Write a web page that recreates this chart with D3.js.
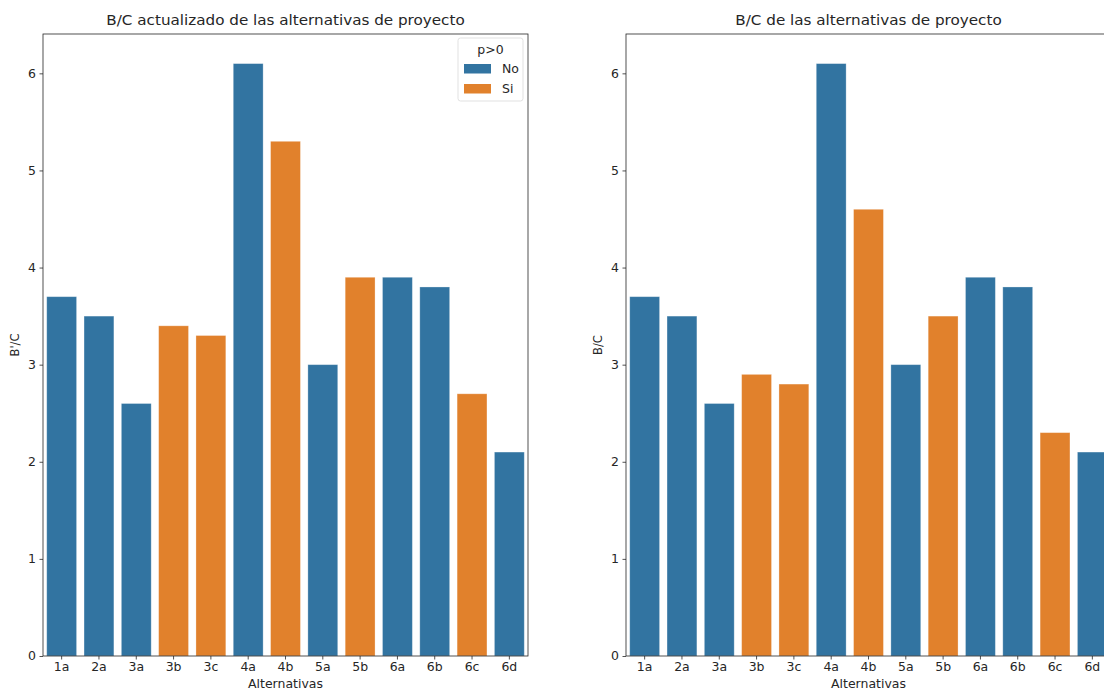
<!DOCTYPE html>
<html>
<head>
<meta charset="utf-8">
<script src="https://cdn.jsdelivr.net/npm/d3@7"></script>
<style>
  html, body { margin: 0; padding: 0; background: #fff; overflow: hidden; }
  svg { display: block; font-family: "DejaVu Sans", sans-serif; }
</style>
</head>
<body>
<svg id="chart" width="1104" height="693"></svg>
<script>
// Alternatives and their benefit/cost ratios
const categories = ["1a", "2a", "3a", "3b", "3c", "4a", "4b", "5a", "5b", "6a", "6b", "6c", "6d"];
const positive = ["No", "No", "No", "Si", "Si", "No", "Si", "No", "Si", "No", "No", "Si", "No"];
const bcUpdated = [3.7, 3.5, 2.6, 3.4, 3.3, 6.1, 5.3, 3.0, 3.9, 3.9, 3.8, 2.7, 2.1];
const bcPlain = [3.7, 3.5, 2.6, 2.9, 2.8, 6.1, 4.6, 3.0, 3.5, 3.9, 3.8, 2.3, 2.1];
const yTicks = [0, 1, 2, 3, 4, 5, 6];
const legendKeys = ["No", "Si"];

const color = d3.scaleOrdinal().domain(legendKeys).range(["#3274a1", "#e1812c"]);
const svg = d3.select("#chart");
const ink = "#262626";
const stretch = 1.085; // slightly wide glyphs

const plotTop = 34, plotBottom = 656, panelW = 485;
const yMax = d3.max(bcUpdated.concat(bcPlain)) * 1.05;
const y = d3.scaleLinear().domain([0, yMax]).range([plotBottom, plotTop]);

// text placed at (x, y) and widened horizontally around that point
function label(parent, x, yPos, str, size, anchor) {
  return parent.append("text")
    .attr("transform", `translate(${x},${yPos}) scale(${stretch},1)`)
    .attr("text-anchor", anchor || "start")
    .attr("font-size", size).attr("fill", ink).text(str);
}

function panel(left, values, title, ylabel, withLegend) {
  const x = d3.scaleBand().domain(categories).range([left, left + panelW]).paddingInner(0.2).paddingOuter(0.1);
  const g = svg.append("g");

  g.selectAll("rect.bar").data(values).join("rect")
    .attr("class", "bar")
    .attr("x", (d, i) => x(categories[i]))
    .attr("width", x.bandwidth())
    .attr("y", d => y(d))
    .attr("height", d => y(0) - y(d))
    .attr("fill", (d, i) => color(positive[i]))
    .attr("stroke", "#ffffff")
    .attr("stroke-opacity", 0.35)
    .attr("stroke-width", 0.8);

  const xAxis = d3.axisBottom(x).tickSize(3.5).tickPadding(3.5);
  const gx = g.append("g").attr("transform", `translate(0,${plotBottom})`).call(xAxis);
  const yAxis = d3.axisLeft(y).tickValues(yTicks).tickFormat(d3.format("d")).tickSize(3.5).tickPadding(3.5);
  const gy = g.append("g").attr("transform", `translate(${left},0)`).call(yAxis);
  [gx, gy].forEach(a => {
    a.select(".domain").remove();
    a.selectAll(".tick line").attr("stroke", ink).attr("stroke-width", 0.8);
    a.selectAll(".tick text").attr("fill", ink).attr("font-size", 11.5)
      .attr("font-family", "DejaVu Sans, sans-serif");
  });
  gx.selectAll(".tick text").attr("transform", `scale(${stretch},1)`);
  gy.selectAll(".tick text").attr("x", -7 / stretch).attr("transform", `scale(${stretch},1)`);

  // axes frame
  g.append("rect").attr("x", left).attr("y", plotTop).attr("width", panelW).attr("height", plotBottom - plotTop)
    .attr("fill", "none").attr("stroke", ink).attr("stroke-width", 0.8);

  label(g, left + panelW / 2, plotTop - 9.5, title, 14, "middle");
  label(g, left + panelW / 2, 688, "Alternativas", 11.5, "middle");
  g.append("text").attr("transform", `translate(${left - 24},${(plotTop + plotBottom) / 2}) rotate(-90)`)
    .attr("text-anchor", "middle").attr("font-size", 11.5).attr("fill", ink).text(ylabel);

  if (withLegend) {
    const lg = g.append("g").attr("transform", `translate(${left + panelW - 70},38)`);
    lg.append("rect").attr("width", 65).attr("height", 63).attr("rx", 2.5)
      .attr("fill", "#fff").attr("fill-opacity", 0.8).attr("stroke", "#d9d9d9").attr("stroke-width", 0.8);
    label(lg, 32.5, 16, "p>0", 11.5, "middle");
    legendKeys.forEach((k, i) => {
      lg.append("rect").attr("x", 6).attr("y", 26 + i * 20).attr("width", 27).attr("height", 9.5).attr("fill", color(k));
      label(lg, 44, 35 + i * 20, k, 11.5, "start");
    });
  }
}

panel(43, bcUpdated, "B/C actualizado de las alternativas de proyecto", "B'/C", true);
panel(626, bcPlain, "B/C de las alternativas de proyecto", "B/C", false);
</script>
</body>
</html>
